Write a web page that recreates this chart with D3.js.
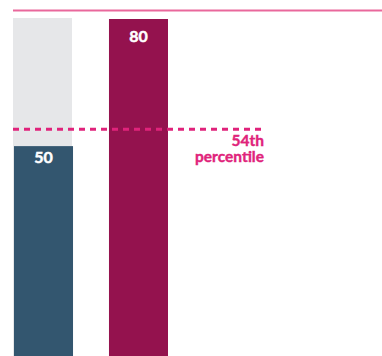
<!DOCTYPE html>
<html><head><meta charset="utf-8">
<script src="https://cdn.jsdelivr.net/npm/d3@7"></script>
<style>body{margin:0;background:#fff}svg{display:block}</style>
</head><body>
<script>
const categories = ["A", "B"];
const values = [50, 80];
const maxValues = [80, null];
const percentileValue = 54;
const percentileLabel = ["54th", "percentile"];
const colors = ["#33566f", "#94124e"];

const W = 382, H = 356;
const svg = d3.select("body").append("svg").attr("width", W).attr("height", H);

const y = d3.scaleLinear().domain([0, 80]).range([358, 19]);
const x = d3.scaleBand().domain(categories).range([13, 168]).paddingInner(0.385).paddingOuter(0);
const labelOffset = [17, 23];
const font = "Lato, 'Open Sans', sans-serif";

// top rule
svg.append("line").attr("x1", 13).attr("x2", W).attr("y1", 10.5).attr("y2", 10.5)
  .attr("stroke", "#e9689c").attr("stroke-width", 2);

// grey background bars
categories.forEach((c, i) => {
  if (maxValues[i] == null) return;
  svg.append("rect")
    .attr("x", x(c)).attr("width", x.bandwidth())
    .attr("y", y(maxValues[i]) - 1)
    .attr("height", y(0) - y(maxValues[i]) + 1)
    .attr("fill", "#e6e7e9");
});

// bars
svg.selectAll(".bar").data(categories).enter().append("rect")
  .attr("x", (d,i) => x(d) + (i===0?1:0)).attr("width", x.bandwidth())
  .attr("y", (d,i) => y(values[i]))
  .attr("height", (d,i) => y(0) - y(values[i]))
  .attr("fill", (d,i) => colors[i]);

// value labels
svg.selectAll(".lbl").data(categories).enter().append("text")
  .attr("x", (d,i) => x(d) + x.bandwidth()/2 + (i===0?1:0))
  .attr("y", (d,i) => y(values[i]) + labelOffset[i])
  .attr("text-anchor", "middle")
  .attr("font-family", font).attr("font-weight", 700)
  .attr("font-size", 16).attr("fill", "#fff")
  .attr("stroke", "#fff").attr("stroke-width", 0.5)
  .text((d,i) => values[i]);

// percentile dashed line
svg.append("line").attr("x1", 13).attr("x2", 264)
  .attr("y1", y(percentileValue)).attr("y2", y(percentileValue))
  .attr("stroke", "#e0237b").attr("stroke-width", 3).attr("stroke-dasharray", "6,5");

percentileLabel.forEach((t, i) => {
  svg.append("text").attr("x", 264).attr("y", y(percentileValue) + 17 + i * 16)
    .attr("text-anchor", "end")
    .attr("font-family", font).attr("font-weight", 700)
    .attr("font-size", 15.5).attr("fill", "#e0237b")
    .attr("stroke", "#e0237b").attr("stroke-width", 0.4)
    .text(t);
});
</script>
</body></html>
